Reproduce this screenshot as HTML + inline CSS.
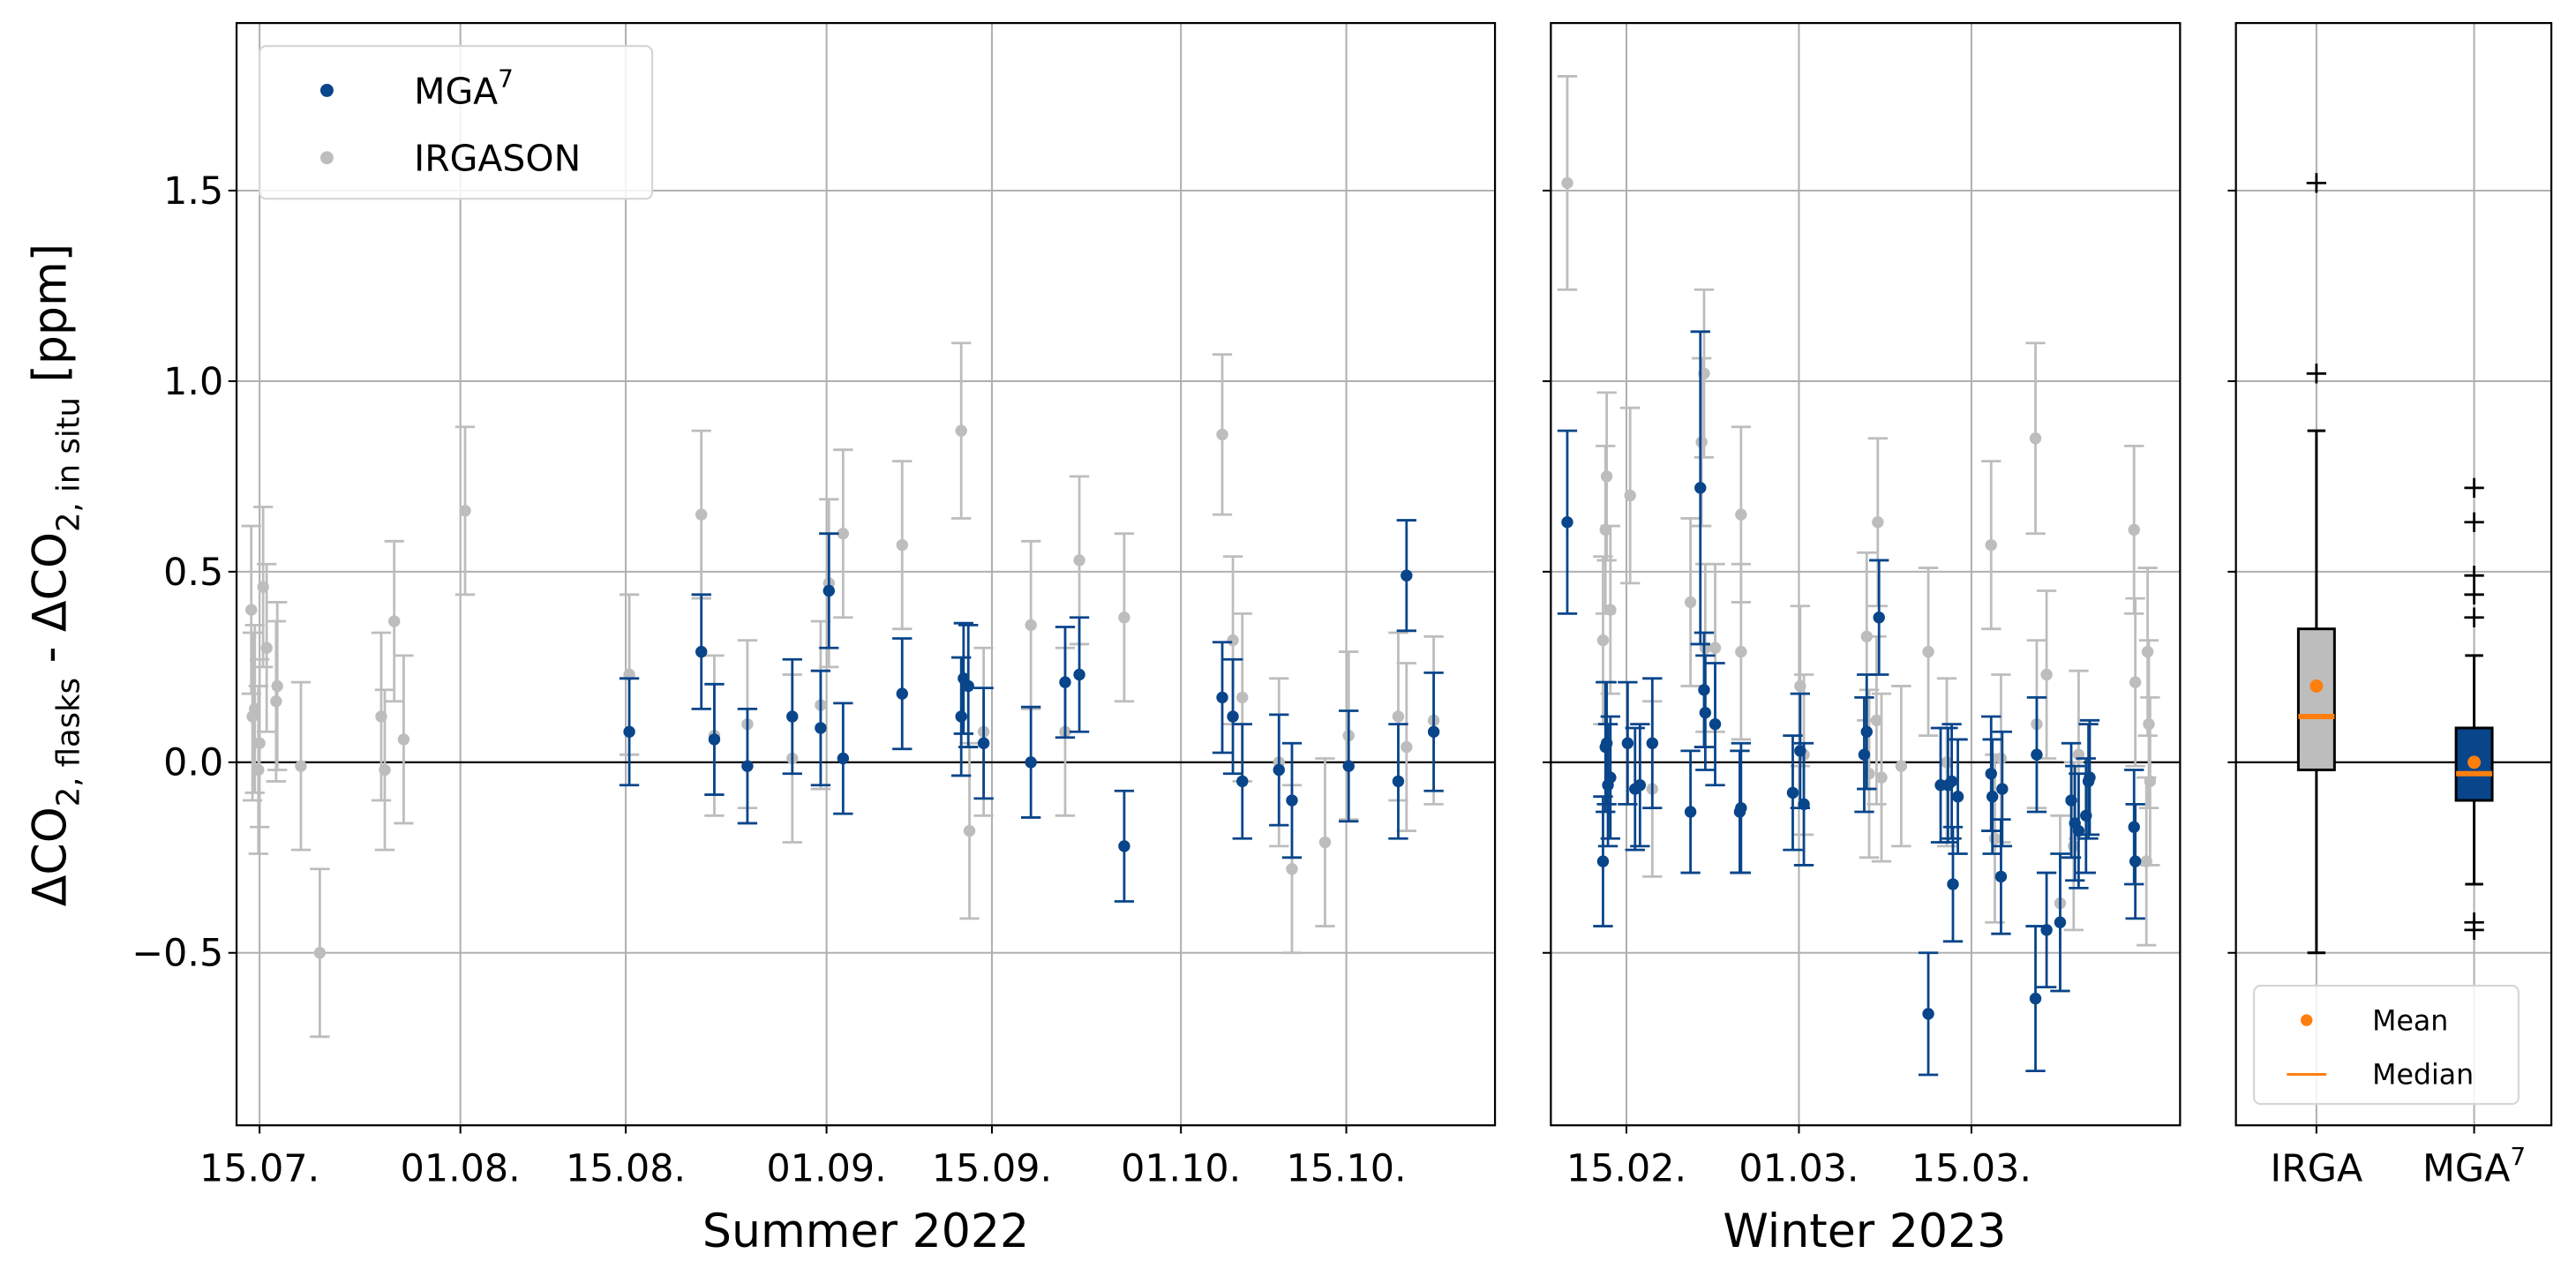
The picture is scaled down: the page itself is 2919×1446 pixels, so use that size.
<!DOCTYPE html>
<html><head><meta charset="utf-8"><style>
html,body{margin:0;padding:0;background:#fff;}
svg{display:block;font-family:"DejaVu Sans","Liberation Sans",sans-serif;}
</style></head><body>
<svg id="chart" width="2919" height="1446" viewBox="0 0 1568 776.7" xmlns="http://www.w3.org/2000/svg"></svg>
<script>
// Summer 2022: days after 15.07.
const summerMgaDays=[31.3,37.4,38.5,41.3,45.1,47.5,48.2,49.4,54.4,59.4,59.6,60.0,61.3,65.3,68.2,69.4,73.2,81.5,82.4,83.2,86.3,87.4,92.2,96.4,97.1,99.4];
const summerMgaVals=[0.08,0.29,0.06,-0.01,0.12,0.09,0.45,0.01,0.18,0.12,0.22,0.20,0.05,0.00,0.21,0.23,-0.22,0.17,0.12,-0.05,-0.02,-0.10,-0.01,-0.05,0.49,0.08];
const summerMgaErr=[0.14,0.15,0.145,0.15,0.15,0.15,0.15,0.145,0.145,0.155,0.145,0.16,0.145,0.145,0.145,0.15,0.145,0.145,0.15,0.15,0.145,0.15,0.145,0.15,0.145,0.155];
const summerIrgDays=[-0.7,-0.6,-0.4,-0.1,0,0.3,0.6,1.4,1.5,3.5,5.1,10.3,10.6,11.4,12.2,17.4,31.3,37.4,38.5,41.3,45.1,47.5,48.2,49.4,54.4,59.4,60.1,61.3,65.3,68.2,69.4,73.2,81.5,82.4,83.2,86.3,87.4,90.2,92.2,96.4,97.1,99.4];
const summerIrgVals=[0.40,0.12,0.14,-0.02,0.05,0.46,0.30,0.16,0.20,-0.01,-0.50,0.12,-0.02,0.37,0.06,0.66,0.23,0.65,0.07,0.10,0.01,0.15,0.47,0.60,0.57,0.87,-0.18,0.08,0.36,0.08,0.53,0.38,0.86,0.32,0.17,0.00,-0.28,-0.21,0.07,0.12,0.04,0.11];
const summerIrgErr=[0.22,0.22,0.22,0.22,0.22,0.21,0.22,0.21,0.22,0.22,0.22,0.22,0.21,0.21,0.22,0.22,0.21,0.22,0.21,0.22,0.22,0.22,0.22,0.22,0.22,0.23,0.23,0.22,0.22,0.22,0.22,0.22,0.21,0.22,0.22,0.22,0.22,0.22,0.22,0.22,0.22,0.22];
// Winter 2023: days after 15.02.
const winterMgaDays=[-4.8,-1.9,-1.7,-1.6,-1.5,-1.3,0.1,0.7,1.1,2.1,5.2,6.0,6.3,6.4,7.2,9.2,9.3,13.5,14.1,14.4,19.3,19.5,20.5,24.5,25.5,26.1,26.4,26.5,26.9,29.6,29.7,30.4,30.5,33.2,33.3,34.1,35.2,36.1,36.4,36.7,37.3,37.5,37.6,41.2,41.3];
const winterMgaVals=[0.63,-0.26,0.04,0.05,-0.06,-0.04,0.05,-0.07,-0.06,0.05,-0.13,0.72,0.19,0.13,0.10,-0.13,-0.12,-0.08,0.03,-0.11,0.02,0.08,0.38,-0.66,-0.06,-0.06,-0.05,-0.32,-0.09,-0.03,-0.09,-0.30,-0.07,-0.62,0.02,-0.44,-0.42,-0.10,-0.16,-0.18,-0.14,-0.05,-0.04,-0.17,-0.26];
const winterMgaErr=[0.24,0.17,0.17,0.16,0.16,0.16,0.16,0.16,0.16,0.17,0.16,0.41,0.15,0.15,0.16,0.16,0.17,0.15,0.15,0.16,0.15,0.15,0.15,0.16,0.15,0.15,0.15,0.15,0.15,0.15,0.15,0.15,0.15,0.19,0.15,0.15,0.18,0.15,0.15,0.15,0.15,0.15,0.15,0.15,0.15];
const winterIrgDays=[-4.8,-1.9,-1.7,-1.6,-1.3,0.3,2.1,5.2,6.1,6.3,6.4,7.2,9.3,9.3,14.1,14.4,19.5,19.7,20.3,20.4,20.7,22.3,24.5,26.0,29.6,29.9,30.4,33.2,33.3,34.1,35.2,36.3,36.7,41.2,41.3,42.3,42.4,42.5,42.2];
const winterIrgVals=[1.52,0.32,0.61,0.75,0.40,0.70,-0.07,0.42,0.84,1.02,0.30,0.30,0.65,0.29,0.20,0.02,0.33,-0.03,0.11,0.63,-0.04,-0.01,0.29,0.00,0.57,-0.20,0.01,0.85,0.10,0.23,-0.37,-0.22,0.02,0.61,0.21,0.29,0.10,-0.05,-0.26];
const winterIrgErr=[0.28,0.22,0.22,0.22,0.22,0.23,0.23,0.22,0.22,0.22,0.22,0.22,0.23,0.23,0.21,0.21,0.22,0.22,0.22,0.22,0.22,0.21,0.22,0.22,0.22,0.22,0.22,0.25,0.22,0.22,0.23,0.22,0.22,0.22,0.22,0.22,0.22,0.22,0.22];
// box stats: [whiskerLow, q1, median, q3, whiskerHigh, mean]
const boxCategories=["IRGA","MGA7"];
const boxIrga=[-0.50,-0.02,0.12,0.35,0.87,0.20];
const boxMga=[-0.32,-0.10,-0.03,0.09,0.28,0.00];
const fliersIrga=[1.02,1.52];
const fliersMga=[0.38,0.44,0.49,0.63,0.72,-0.42,-0.44];
const yTicks=[-0.5,0.0,0.5,1.0,1.5];
const yTickLabels=["−0.5","0.0","0.5","1.0","1.5"];
const summerTickDays=[0,17,31,48,62,78,92];
const summerTickLabels=["15.07.","01.08.","15.08.","01.09.","15.09.","01.10.","15.10."];
const winterTickDays=[0,14,28];
const winterTickLabels=["15.02.","01.03.","15.03."];

const NS="http://www.w3.org/2000/svg";
const svg=document.getElementById('chart');
const TOP=14,BOT=685;
const y=v=>464-v*232;
const sx=d=>158+7.19*d;
const wx=d=>990+7.5*d;
const BLUE="#08458a",GREY="#bdbdbd";
const TF=23;
function mk(tag,attrs,parent){const e=document.createElementNS(NS,tag);for(const k in attrs)e.setAttribute(k,attrs[k]);(parent||svg).appendChild(e);return e;}
function txt(s,attrs,parent){const t=mk('text',attrs,parent);t.textContent=s;return t;}

const panels=[{x0:144,x1:910,name:'summer-panel'},{x0:944,x1:1327,name:'winter-panel'},{x0:1361,x1:1553,name:'boxplot-panel'}];
panels.forEach((p,i)=>{
  const g=mk('g',{});
  
  
  p.g=g;
  mk('clipPath',{id:'clip'+i},g).appendChild(mk('rect',{x:p.x0,y:TOP,width:p.x1-p.x0,height:BOT-TOP}));
  yTicks.forEach(v=>{
    const l=mk('line',{x1:p.x0,x2:p.x1,y1:y(v),y2:y(v),stroke:'#b0b0b0','stroke-width':1.1},g);
    
    
    mk('line',{x1:p.x0-5,x2:p.x0,y1:y(v),y2:y(v),stroke:'#000','stroke-width':1.1},g);
  });
});
yTicks.forEach((v,i)=>{
  const t=txt(yTickLabels[i],{x:136,y:y(v)+8,'text-anchor':'end','font-size':TF});
  
  
});
function xTicks(p,days,labels,fx){
  days.forEach((d,i)=>{
    mk('line',{x1:fx(d),x2:fx(d),y1:TOP,y2:BOT,stroke:'#b0b0b0','stroke-width':1.1},p.g);
    mk('line',{x1:fx(d),x2:fx(d),y1:BOT,y2:BOT+5,stroke:'#000','stroke-width':1.1},p.g);
    const t=txt(labels[i],{x:fx(d),y:BOT+34,'text-anchor':'middle','font-size':TF},p.g);
    
    
  });
}
xTicks(panels[0],summerTickDays,summerTickLabels,sx);
xTicks(panels[1],winterTickDays,winterTickLabels,wx);
[1410,1506].forEach(x=>{
  mk('line',{x1:x,x2:x,y1:TOP,y2:BOT,stroke:'#b0b0b0','stroke-width':1.1},panels[2].g);
  mk('line',{x1:x,x2:x,y1:BOT,y2:BOT+5,stroke:'#000','stroke-width':1.1},panels[2].g);
});
let t=txt('IRGA',{x:1410,y:BOT+34,'text-anchor':'middle','font-size':TF},panels[2].g);


t=mk('text',{x:1506,y:BOT+34,'text-anchor':'middle','font-size':TF},panels[2].g);
t.innerHTML='MGA<tspan dy="-10" font-size="15">7</tspan>';



panels.forEach(p=>mk('line',{x1:p.x0,x2:p.x1,y1:y(0),y2:y(0),stroke:'#000','stroke-width':1.2},p.g));

function series(p,ci,days,vals,errs,fx,color,name){
  const g=mk('g',{'clip-path':'url(#clip'+ci+')'},p.g);
  
  
  days.forEach((d,i)=>{
    const x=fx(d),v=vals[i],e=errs[i];
    mk('line',{x1:x,x2:x,y1:y(v+e),y2:y(v-e),stroke:color,'stroke-width':1.5},g);
    mk('line',{x1:x-6,x2:x+6,y1:y(v+e),y2:y(v+e),stroke:color,'stroke-width':1.5},g);
    mk('line',{x1:x-6,x2:x+6,y1:y(v-e),y2:y(v-e),stroke:color,'stroke-width':1.5},g);
    const c=mk('circle',{cx:x,cy:y(v),r:3.6,fill:color},g);
    
    
  });
}
series(panels[0],0,summerIrgDays,summerIrgVals,summerIrgErr,sx,GREY,'summer-irgason-series');
series(panels[0],0,summerMgaDays,summerMgaVals,summerMgaErr,sx,BLUE,'summer-mga-series');
series(panels[1],1,winterIrgDays,winterIrgVals,winterIrgErr,wx,GREY,'winter-irgason-series');
series(panels[1],1,winterMgaDays,winterMgaVals,winterMgaErr,wx,BLUE,'winter-mga-series');

function box(x,s,fl,fill,name){
  const g=mk('g',{},panels[2].g);
  
  
  const w=11;
  mk('line',{x1:x,x2:x,y1:y(s[0]),y2:y(s[1]),stroke:'#000','stroke-width':1.6},g);
  mk('line',{x1:x,x2:x,y1:y(s[3]),y2:y(s[4]),stroke:'#000','stroke-width':1.6},g);
  mk('line',{x1:x-5.5,x2:x+5.5,y1:y(s[0]),y2:y(s[0]),stroke:'#000','stroke-width':1.6},g);
  mk('line',{x1:x-5.5,x2:x+5.5,y1:y(s[4]),y2:y(s[4]),stroke:'#000','stroke-width':1.6},g);
  mk('rect',{x:x-w,y:y(s[3]),width:2*w,height:y(s[1])-y(s[3]),fill:fill,stroke:'#000','stroke-width':1.6},g);
  mk('line',{x1:x-w,x2:x+w,y1:y(s[2]),y2:y(s[2]),stroke:'#ff7f0e','stroke-width':3.2},g);
  mk('circle',{cx:x,cy:y(s[5]),r:4,fill:'#ff7f0e'},g);
  fl.forEach(v=>{
    mk('line',{x1:x-6,x2:x+6,y1:y(v),y2:y(v),stroke:'#000','stroke-width':1.5},g);
    mk('line',{x1:x,x2:x,y1:y(v)-6,y2:y(v)+6,stroke:'#000','stroke-width':1.5},g);
  });
}
box(1410,boxIrga,fliersIrga,'#bdbdbd','irga-box');
box(1506,boxMga,fliersMga,BLUE,'mga-box');

panels.forEach(p=>mk('rect',{x:p.x0,y:TOP,width:p.x1-p.x0,height:BOT-TOP,fill:'none',stroke:'#000','stroke-width':1.2},p.g));

let lg=mk('g',{});


mk('rect',{x:158,y:28,width:239,height:93,rx:4,fill:'#fff','fill-opacity':0.85,stroke:'#d6d6d6','stroke-width':1.2},lg);
mk('circle',{cx:199,cy:55,r:4,fill:BLUE},lg);
t=mk('text',{x:252,y:63,'font-size':22},lg);
t.innerHTML='MGA<tspan dy="-10" font-size="15">7</tspan>';


mk('circle',{cx:199,cy:96,r:4,fill:GREY},lg);
t=txt('IRGASON',{x:252,y:104,'font-size':22},lg);



lg=mk('g',{});


mk('rect',{x:1372,y:600,width:161,height:72,rx:4,fill:'#fff','fill-opacity':0.85,stroke:'#d6d6d6','stroke-width':1.2},lg);
mk('circle',{cx:1404,cy:621,r:3.6,fill:'#ff7f0e'},lg);
t=txt('Mean',{x:1444,y:627,'font-size':17},lg);


mk('line',{x1:1392,x2:1416,y1:654,y2:654,stroke:'#ff7f0e','stroke-width':1.6},lg);
t=txt('Median',{x:1444,y:660,'font-size':17},lg);



t=txt('Summer 2022',{x:527,y:759,'text-anchor':'middle','font-size':28});


t=txt('Winter 2023',{x:1135,y:759,'text-anchor':'middle','font-size':28});


t=mk('text',{x:0,y:0,'text-anchor':'middle','font-size':28,transform:'translate(40,350) rotate(-90)'});
t.innerHTML='ΔCO<tspan dy="8" font-size="19">2, flasks</tspan><tspan dy="-8"> - ΔCO</tspan><tspan dy="8" font-size="19">2, in situ</tspan><tspan dy="-8"> [ppm]</tspan>';


</script>
</body></html>
